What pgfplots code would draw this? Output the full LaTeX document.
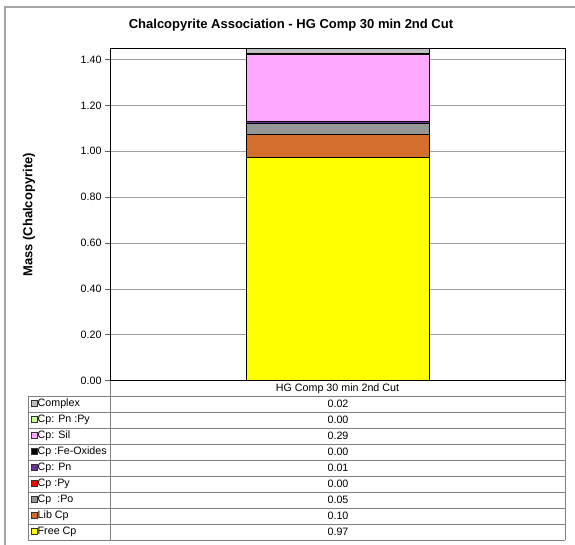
\documentclass[border=0pt]{standalone}
\usepackage{fontspec}
\setmainfont{Liberation Sans}
\usepackage{pgfplots}
\pgfplotsset{compat=1.18}

\definecolor{freecp}{RGB}{255,255,0}
\definecolor{libcp}{RGB}{211,110,44}
\definecolor{cppo}{RGB}{150,150,150}
\definecolor{cppy}{RGB}{255,0,0}
\definecolor{cppn}{RGB}{102,51,153}
\definecolor{cpfe}{RGB}{0,0,0}
\definecolor{cpsil}{RGB}{255,168,255}
\definecolor{cppnpy}{RGB}{204,255,153}
\definecolor{cpx}{RGB}{192,192,192}
\definecolor{tblline}{RGB}{128,128,128}

\begin{document}
\begin{tikzpicture}[x=1pt,y=1pt]
\useasboundingbox (0,0) rectangle (575,544);
% chart area frame
\draw[gray!70, line width=1.2pt] (5,-3) -- (5,537) -- (580,537);

\node[font=\fontsize{13}{15}\selectfont\bfseries] at (291,519)
  {Chalcopyrite Association - HG Comp 30 min 2nd Cut};

\begin{axis}[
  at={(110pt,163.3pt)}, anchor=south west,
  scale only axis, width=455pt, height=331.7pt,
  xmin=-1, xmax=1, ymin=0, ymax=1.446,
  ybar stacked, bar width=183pt,
  xtick=\empty,
  ytick={0,0.2,0.4,0.6,0.8,1.0,1.2,1.4},
  yticklabel style={/pgf/number format/.cd, fixed, fixed zerofill, precision=2, assume math mode=true},
  ticklabel style={font=\fontsize{10.7}{12}\selectfont},
  ymajorgrids, grid style={gray!75, line width=0.8pt},
  tick style={gray!75!black, line width=0.8pt},
  major tick length=5pt, tick align=outside, ytick pos=left,
  axis line style={black, line width=1pt},
  ylabel={Mass (Chalcopyrite)},
  ylabel style={font=\fontsize{13}{15}\selectfont\bfseries, at={(axis description cs:-0.178,0.5)}, anchor=center},
  every axis plot/.append style={draw=black, line width=1pt},
]
\addplot[fill=freecp] coordinates {(0,0.972)};
\addplot[fill=libcp] coordinates {(0,0.100)};
\addplot[fill=cppo] coordinates {(0,0.048)};
\addplot[fill=cppy] coordinates {(0,0.002)};
\addplot[fill=cppn] coordinates {(0,0.008)};
\addplot[fill=cpfe] coordinates {(0,0.002)};
\addplot[fill=cpsil] coordinates {(0,0.292)};
\addplot[fill=cppnpy] coordinates {(0,0.002)};
\addplot[fill=cpx] coordinates {(0,0.022)};
\end{axis}

% data table
\begin{scope}[tblline, line width=0.9pt]
  \draw (110,163.3) -- (110,4);
  \draw (565,163.3) -- (565,4);
  \draw (28,148) -- (28,4);
  \foreach \y in {148,132,116,100,84,68,52,36,20,4} \draw (28,\y) -- (565,\y);
\end{scope}
\node[font=\fontsize{10.7}{12}\selectfont] at (337.5,155.5) {HG Comp 30 min 2nd Cut};
\foreach \n/\c/\v [count=\i from 0] in {
  Complex/cpx/0.02,
  Cp: Pn :Py/cppnpy/0.00,
  Cp: Sil/cpsil/0.29,
  Cp :Fe-Oxides/cpfe/0.00,
  Cp: Pn/cppn/0.01,
  Cp :Py/cppy/0.00,
  Cp~ :Po/cppo/0.05,
  Lib Cp/libcp/0.10,
  Free Cp/freecp/0.97}{
  \pgfmathsetmacro{\yc}{140-16*\i}
  \draw[fill=\c, draw=black!80, line width=0.8pt] (31.5,\yc-2) rectangle (37,\yc+3.5);
  \node[anchor=west, inner sep=0pt, font=\fontsize{10.7}{12}\selectfont] at (37.5,\yc) {\n};
  \node[font=\fontsize{10.7}{12}\selectfont] at (338,\yc) {\v};
}
\end{tikzpicture}
\end{document}
